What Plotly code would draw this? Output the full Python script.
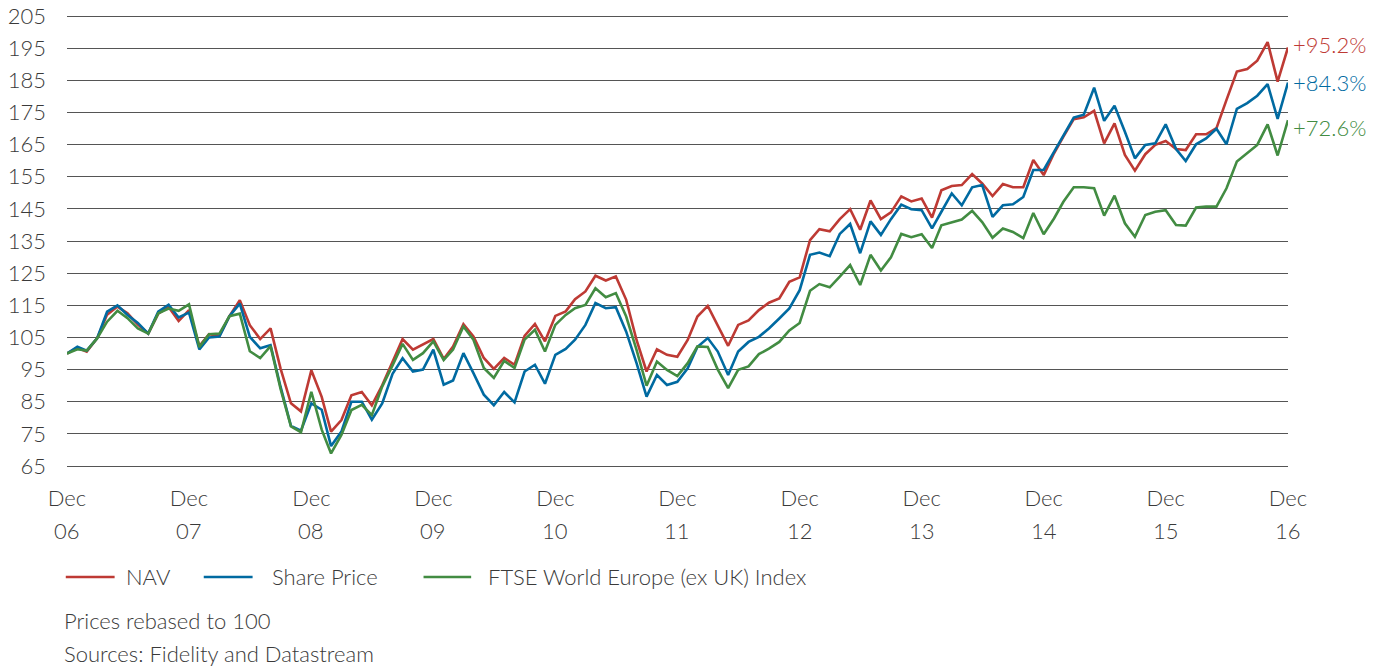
"""
Fidelity European Values - performance rebased to 100, Dec 2006 - Dec 2016
"""
import plotly.graph_objects as go
import pandas as pd

# Monthly month-end dates, Dec 06 .. Dec 16
dates = pd.date_range("2006-12-31", periods=121, freq="ME")

nav = [100, 101.8, 100.6, 104.7, 112.1, 114.6, 112.5, 109, 106.2, 112.4, 114.5, 110.1, 113.5,
       102.3, 106, 105.5, 111.6, 116.6, 108.8, 104.5, 107.8, 95.3, 84.5, 82, 94.8,
       86.5, 75.7, 79.3, 87, 88, 83.9, 90.1, 97.4, 104.5, 101.2, 102.7, 104.5,
       98.3, 102.2, 109.1, 105.3, 98.6, 95.2, 98.6, 96.5, 105.5, 109.2, 103.8, 111.7,
       113.1, 116.9, 119.3, 124.2, 122.7, 124, 116.7, 104.2, 94.4, 101.3, 99.6, 99,
       104.2, 111.5, 114.8, 108.9, 102.4, 108.9, 110.3, 113.5, 115.8, 117.1, 122.3, 123.7,
       135.3, 138.7, 138, 141.8, 144.9, 138.5, 147.6, 141.8, 143.9, 148.9, 147.3, 148.2,
       142.3, 150.8, 152.1, 152.4, 155.8, 152.9, 149, 152.7, 151.7, 151.7, 160.2, 155.5,
       162.3, 167.5, 172.9, 173.5, 175.5, 165.4, 171.6, 161.8, 156.9, 162, 164.9, 166.1,
       163.6, 163.3, 168.2, 168.2, 170.1, 178.9, 187.7, 188.5, 191.1, 196.9, 184.6, 195.2]

share_price = [100, 102.1, 100.9, 104.7, 113, 115, 112, 109.5, 106.2, 113, 115.2, 111.2, 112.7,
               101.3, 105, 105.3, 111.6, 115.5, 105.2, 101.6, 102.6, 89.6, 77.5, 76, 84.5,
               82.5, 71.2, 75.7, 85, 85, 79.4, 84.5, 93.7, 98.5, 94.4, 95, 101.2,
               90.3, 91.6, 100.1, 93.9, 87.2, 83.9, 88, 84.8, 94.4, 96.5, 90.6, 99.6,
               101.4, 104.3, 108.9, 115.7, 114.1, 114.4, 106.8, 97, 86.6, 93.3, 90.2, 91.2,
               95.4, 102, 104.8, 100.6, 93.3, 100.6, 103.6, 105.2, 107.8, 110.9, 114, 119.7,
               130.7, 131.4, 130.3, 137.2, 140.3, 131.2, 141.1, 136.9, 141.8, 146.3, 144.9, 144.6,
               138.9, 144.1, 149.8, 146.1, 151.7, 152.4, 142.5, 146.1, 146.4, 148.7, 157.1, 157.1,
               162.8, 167.7, 173.4, 174.3, 182.7, 172.4, 177.1, 169, 160.7, 164.9, 165.4, 171.3,
               163.6, 159.9, 165.1, 166.9, 169.9, 165.1, 176.1, 177.9, 180.2, 183.8, 173, 184.3]

ftse_europe = [100, 101.3, 100.9, 104.7, 109.9, 113.3, 111, 107.8, 106.2, 112.5, 114, 113.3, 115.3,
               102, 106, 106.2, 111.6, 112.4, 100.7, 98.6, 102.3, 89, 77.3, 75.5, 88.1,
               76.3, 68.9, 74.7, 82.4, 84, 80.8, 89.7, 96.3, 103, 98, 100.1, 103.8,
               98, 101.2, 108.4, 104.3, 95.5, 92.4, 97.7, 95.5, 104.3, 107.4, 100.6, 108.9,
               112, 114.1, 115.1, 120.3, 117.5, 118.8, 111.5, 101.1, 90, 97.5, 94.9, 93,
               97, 102.2, 102, 95, 89.2, 94.9, 96, 99.8, 101.5, 103.6, 107.2, 109.5,
               119.5, 121.6, 120.6, 123.9, 127.5, 121.3, 130.7, 125.8, 129.9, 137.2, 136.2, 137.1,
               132.8, 139.9, 140.9, 141.7, 144.4, 140.9, 136, 138.9, 137.8, 135.9, 143.7, 137.1,
               142, 147.2, 151.7, 151.7, 151.4, 142.9, 149.1, 140.5, 136.3, 143.1, 144.1, 144.6,
               140, 139.8, 145.4, 145.7, 145.7, 151.4, 159.7, 162.3, 164.9, 171.3, 161.6, 172.6]

series_names = ['NAV', 'Share Price', 'FTSE World Europe (ex UK) Index']
end_labels = ['+95.2%', '+84.3%', '+72.6%']
y_ticks = list(range(65, 206, 10))
tick_dates = [d for d in dates if d.month == 12]
tick_month = 'Dec'
tick_years = ['06', '07', '08', '09', '10', '11', '12', '13', '14', '15', '16']
notes = ['Prices rebased to 100', 'Sources: Fidelity and Datastream']

colors = ['#be3a34', '#006aa1', '#428c42']
FONT = 'Lato'
TEXT = '#3a3a3a'
FS = 22

# plot area: 454px tall, 450px between the 65 and 205 gridlines
PAD = 2 * 140 / 450          # 2px of padding, in data units
Y_RANGE = [65 - PAD, 205 + PAD]


def txt(color=TEXT):
    return dict(family=FONT, size=FS, color=color, weight=300)


fig = go.Figure()

for name, values, color in zip(series_names, [nav, share_price, ftse_europe], colors):
    fig.add_trace(go.Scatter(
        x=dates,
        y=values,
        name=name,
        mode='lines',
        line=dict(color=color, width=2.6),
        showlegend=False,
        hoverinfo='skip'
    ))

# end-of-line labels
shifts = [3, 0, -7]
for values, label, color, shift in zip([nav, share_price, ftse_europe], end_labels, colors, shifts):
    fig.add_annotation(
        x=dates[-1], y=values[-1], xref='x', yref='y',
        text=label, showarrow=False, xanchor='left', yanchor='middle',
        xshift=3, yshift=shift, font=txt(color)
    )

# years under "Dec"
for d, yr in zip(tick_dates, tick_years):
    fig.add_annotation(
        x=d, y=-0.138, xref='x', yref='paper',
        text=yr, showarrow=False, xanchor='center', yanchor='middle',
        font=txt()
    )

# legend (drawn by hand to get the long line keys)
legend_line_x = [(-0.001, 0.039), (0.112, 0.152), (0.292, 0.331)]
legend_text_x = [0.047, 0.166, 0.343]
LEG_Y = -0.240
for name, color, (x0, x1), tx in zip(series_names, colors, legend_line_x, legend_text_x):
    fig.add_shape(type='line', xref='paper', yref='paper',
                  x0=x0, x1=x1, y0=LEG_Y, y1=LEG_Y,
                  line=dict(color=color, width=2.6))
    fig.add_annotation(x=tx, y=LEG_Y, xref='paper', yref='paper',
                       text=name, showarrow=False, xanchor='left', yanchor='middle',
                       font=txt())

# notes
for i, note in enumerate(notes):
    fig.add_annotation(
        x=-0.004, y=-0.335 - i * 0.0745, xref='paper', yref='paper',
        text=note, showarrow=False, xanchor='left', yanchor='middle',
        font=txt()
    )

# the page body adds an 8px margin, so the figure is 8px smaller each way
fig.update_layout(
    width=1372,
    height=661,
    margin=dict(l=59, r=92, t=6, b=201, autoexpand=False),
    plot_bgcolor='white',
    paper_bgcolor='white',
    font=txt(),
    showlegend=False,
    xaxis=dict(
        range=[dates[0], dates[-1]],
        tickvals=tick_dates,
        ticktext=[tick_month] * len(tick_dates),
        showgrid=False,
        zeroline=False,
        showline=False,
        ticks='',
        automargin=False,
        ticklabelstandoff=15,
        tickfont=txt()
    ),
    yaxis=dict(
        range=Y_RANGE,
        tickvals=y_ticks,
        showgrid=True,
        gridcolor='#555555',
        gridwidth=1.3,
        zeroline=False,
        showline=False,
        ticks='',
        automargin=False,
        ticklabelstandoff=20,
        ticklabeloverflow='allow',
        tickfont=txt()
    )
)

fig.write_html("out.html")
